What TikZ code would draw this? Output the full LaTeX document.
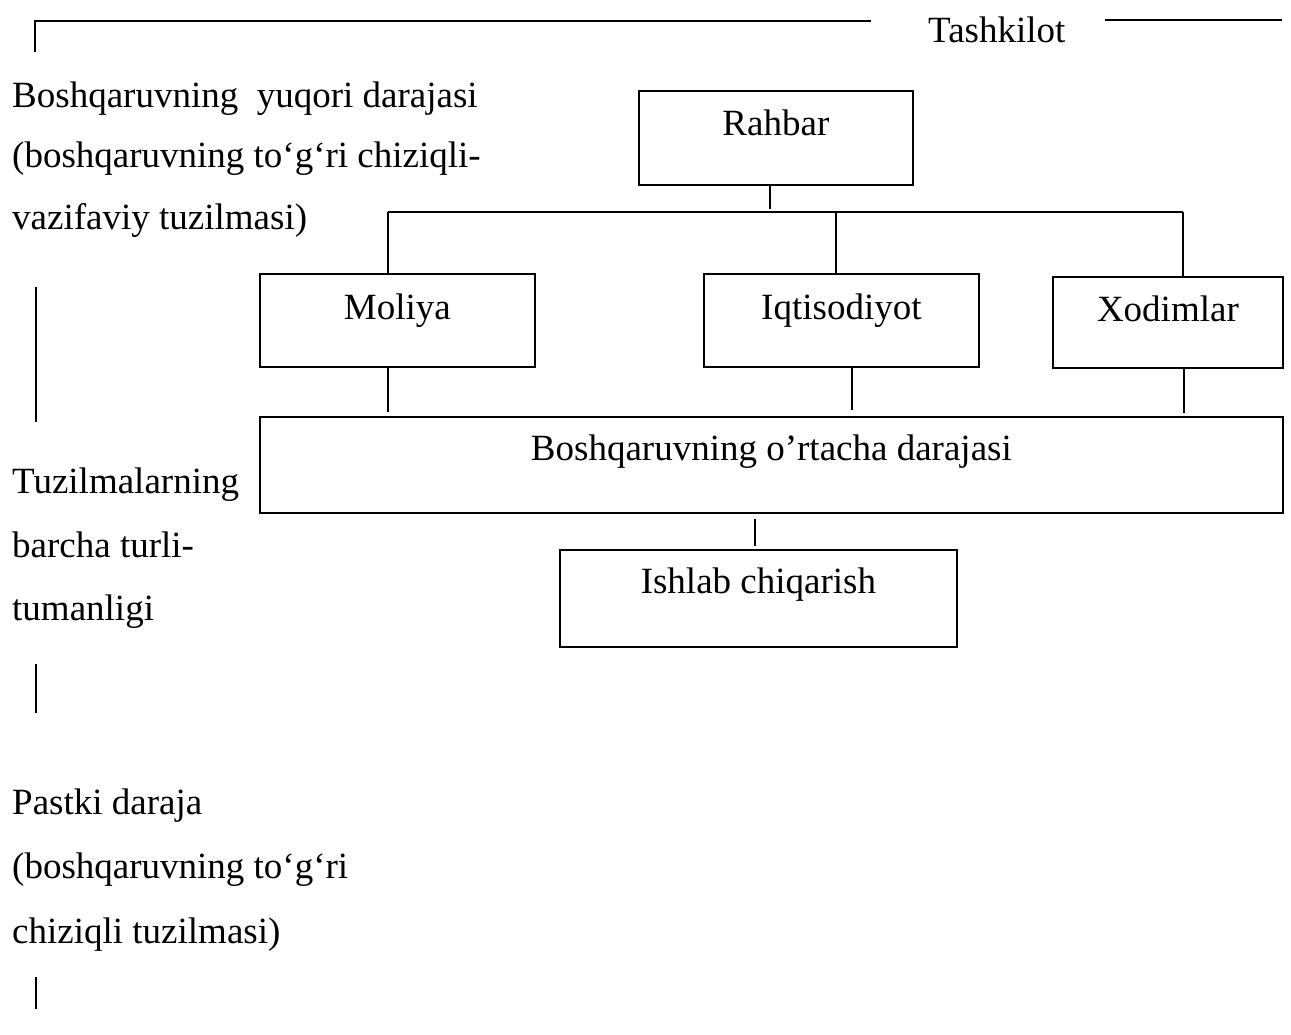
\documentclass[tikz,border=0pt]{standalone}
\usepackage{fontspec}
\setmainfont{Liberation Serif}[Ligatures=CommonOff]
\begin{document}
\begin{tikzpicture}[x=1pt,y=-1pt,
  every node/.style={font=\fontsize{37}{44}\selectfont, inner sep=0pt},
  box/.style={draw, line width=1.8pt, anchor=north west, inner sep=0pt, text height=20pt},
  conn/.style={line width=1.6pt},
  lbl/.style={anchor=base west}]
\fill[white] (0,0) rectangle (1291,1034);
\useasboundingbox (0,0) rectangle (1291,1034);

% boxes
\node[box, minimum width=274pt, minimum height=94pt, text depth=24pt] (rahbar) at (638,90) {Rahbar};
\node[box, minimum width=275pt, minimum height=93pt, text depth=21pt] (moliya) at (259,273) {Moliya};
\node[box, minimum width=275pt, minimum height=93pt, text depth=21pt] (iqt) at (703,273) {Iqtisodiyot};
\node[box, minimum width=230pt, minimum height=91pt, text depth=21pt] (xodim) at (1052,276) {Xodimlar};
\node[box, minimum width=1023pt, minimum height=96pt, text depth=28pt] (mid) at (259,416) {Boshqaruvning o’rtacha darajasi};
\node[box, minimum width=397pt, minimum height=97pt, text depth=29pt] (ishlab) at (559,549) {Ishlab chiqarish};

% connectors
\coordinate (busL) at (388,212);
\coordinate (busM) at (836,212);
\coordinate (busR) at (1183,212);
\coordinate (rstub) at (770,209);
\draw[conn] (busL) -- (busR);
\draw[conn] (rstub |- rahbar.south) -- (rstub);
\draw[conn] (busL) -- (busL |- moliya.north);
\draw[conn] (busM) -- (busM |- iqt.north);
\draw[conn] (busR) -- (busR |- xodim.north);
\coordinate (m1) at (388,412);
\draw[conn] (m1 |- moliya.south) -- (m1);
\coordinate (m2) at (852,410);
\draw[conn] (m2 |- iqt.south) -- (m2);
\coordinate (m3) at (1184,413);
\draw[conn] (m3 |- xodim.south) -- (m3);
\coordinate (m4) at (755,530);
\draw[conn, shorten <=5pt, shorten >=3pt] (m4 |- mid.south) -- (m4 |- ishlab.north);

% frame and title
\coordinate (fTL) at (35,21);
\coordinate (fBL) at (35,52);
\coordinate (fTR) at (871,21);
\draw[conn] (fBL) -- (fTL) -- (fTR);
\node[lbl] (tash) at (928,42) {Tashkilot};
\coordinate (rl1) at (1105,20);
\coordinate (rl2) at (1282,20);
\draw[conn] (rl1) -- (rl2);

% left bars
\draw[conn] (36,287) -- (36,422);
\draw[conn] (36,664) -- (36,713);
\draw[conn] (36,977) -- (36,1009);

% left texts
\node[lbl] (t1) at (12,107) {Boshqaruvning\ \ yuqori darajasi};
\node[lbl] (t2) at (12,167) {(boshqaruvning to‘g‘ri chiziqli-};
\node[lbl] (t3) at (12,229) {vazifaviy tuzilmasi)};
\node[lbl] (t4) at (12,493) {Tuzilmalarning};
\node[lbl] (t5) at (12,557) {barcha turli-};
\node[lbl] (t6) at (12,620) {tumanligi};
\node[lbl] (t7) at (12,814) {Pastki daraja};
\node[lbl] (t8) at (12,878) {(boshqaruvning to‘g‘ri};
\node[lbl] (t9) at (12,943) {chiziqli tuzilmasi)};
\end{tikzpicture}
\end{document}
